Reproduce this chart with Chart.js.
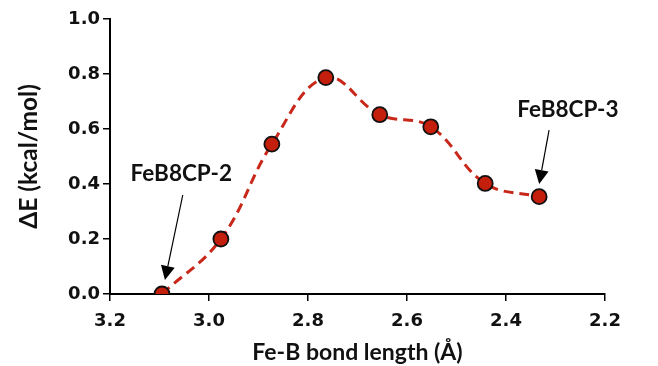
<!DOCTYPE html>
<html>
<head>
<meta charset="utf-8">
<script src="https://cdn.jsdelivr.net/npm/chart.js@4"></script>
<style>
  html, body { margin: 0; padding: 0; background: #fff; }
  #wrap { width: 658px; height: 366px; }
</style>
</head>
<body>
<div id="wrap"><canvas id="myChart" width="658" height="366"></canvas></div>
<script>
// Fe-B bond length (Å) and relative energy (kcal/mol)
const bondLength = [3.095, 2.976, 2.873, 2.764, 2.655, 2.552, 2.442, 2.333];
const deltaE = [0.0, 0.20, 0.545, 0.787, 0.652, 0.608, 0.402, 0.354];

// annotation labels, placed in data units
const labels = ["FeB8CP-2", "FeB8CP-3"];
const labelX = [3.056, 2.275];
const labelY = [0.436, 0.669];
const arrowFromX = [3.053, 2.313];
const arrowFromY = [0.36, 0.596];
const arrowToX = [3.089, 2.333];
const arrowToY = [0.051, 0.40];

const labelFont = "bold 22.5px Lato";

// draws the two labels with arrows
const arrowPlugin = {
    id: 'arrows',
    afterDatasetsDraw(chart) {
        const ctx = chart.ctx;
        const xs = chart.scales.x, ys = chart.scales.y;
        ctx.save();
        for (let i = 0; i < labels.length; i++) {
            const x1 = xs.getPixelForValue(arrowFromX[i]);
            const y1 = ys.getPixelForValue(arrowFromY[i]);
            const x2 = xs.getPixelForValue(arrowToX[i]);
            const y2 = ys.getPixelForValue(arrowToY[i]);
            const ang = Math.atan2(y2 - y1, x2 - x1);
            const headLen = 14, headW = 7;
            const bx = x2 - headLen * Math.cos(ang), by = y2 - headLen * Math.sin(ang);
            ctx.strokeStyle = '#000';
            ctx.lineWidth = 1.2;
            ctx.beginPath();
            ctx.moveTo(x1, y1);
            ctx.lineTo(bx, by);
            ctx.stroke();
            ctx.fillStyle = '#000';
            ctx.beginPath();
            ctx.moveTo(x2, y2);
            ctx.lineTo(bx + headW * Math.sin(ang), by - headW * Math.cos(ang));
            ctx.lineTo(bx - headW * Math.sin(ang), by + headW * Math.cos(ang));
            ctx.closePath();
            ctx.fill();

            ctx.font = labelFont;
            ctx.textAlign = 'center';
            ctx.textBaseline = 'middle';
            ctx.fillStyle = '#111';
            ctx.fillText(labels[i], xs.getPixelForValue(labelX[i]), ys.getPixelForValue(labelY[i]));
        }
        ctx.restore();
    }
};

const points = bondLength.map((x, i) => ({x: x, y: deltaE[i]}));

new Chart(document.getElementById('myChart'), {
    type: 'line',
    data: {
        datasets: [{
            data: points,
            borderColor: '#c8281a',
            borderWidth: 3,
            borderDash: [10, 6],
            tension: 0.4,
            pointRadius: 7.5,
            pointHoverRadius: 7.5,
            pointBackgroundColor: '#c41e0c',
            pointBorderColor: '#111',
            pointBorderWidth: 1.8
        }]
    },
    options: {
        responsive: false,
        animation: false,
        layout: { padding: { top: 19, right: 53, left: 0, bottom: 0 } },
        plugins: {
            legend: { display: false },
            tooltip: { enabled: false }
        },
        scales: {
            x: {
                type: 'linear',
                reverse: true,
                min: 2.2,
                max: 3.2,
                afterFit: (s) => { s.height = 72; },
                ticks: {
                    stepSize: 0.2,
                    color: '#111',
                    padding: 10,
                    font: { family: 'DejaVu Sans', weight: 'bold', size: 18 },
                    callback: (v) => Number(v).toFixed(1)
                },
                grid: { drawOnChartArea: false, color: '#000', tickLength: 7, lineWidth: 1.5 },
                border: { color: '#000', width: 2 },
                title: {
                    display: true,
                    text: 'Fe-B bond length (Å)',
                    color: '#111',
                    padding: { top: 0, bottom: 0 },
                    font: { family: 'Lato', weight: 'bold', size: 23 }
                }
            },
            y: {
                min: 0,
                max: 1.0,
                afterFit: (s) => { s.width = 110; },
                ticks: {
                    stepSize: 0.2,
                    color: '#111',
                    padding: 3,
                    font: { family: 'DejaVu Sans', weight: 'bold', size: 18 },
                    callback: (v) => Number(v).toFixed(1)
                },
                grid: { drawOnChartArea: false, color: '#000', tickLength: 7, lineWidth: 1.5 },
                border: { color: '#000', width: 2 },
                title: {
                    display: true,
                    text: 'ΔE (kcal/mol)',
                    color: '#111',
                    padding: { top: 14, bottom: 8 },
                    font: { family: 'Lato', weight: 'bold', size: 24.5 }
                }
            }
        }
    },
    plugins: [arrowPlugin]
});
</script>
</body>
</html>
